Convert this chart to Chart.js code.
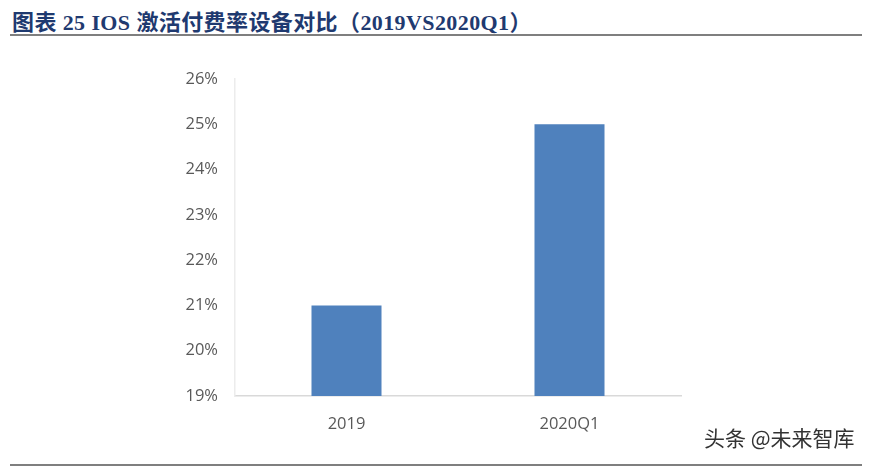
<!DOCTYPE html>
<html>
<head>
<meta charset="utf-8">
<script src="https://cdn.jsdelivr.net/npm/chart.js@4"></script>
<style>
    body { margin: 0; width: 872px; height: 469px; background: #fff; position: relative; overflow: hidden; }
    #title { position: absolute; left: 12px; top: 4px; font: bold 22px "Liberation Serif", "Noto Sans CJK SC", serif; color: #1f3a70; white-space: nowrap; letter-spacing: 0.4px; }
    .line { position: absolute; left: 10px; width: 852px; height: 2px; background: #7f7f7f; }
    #mark { position: absolute; left: 704px; top: 422px; font: 21px "Noto Sans CJK SC", sans-serif; color: #333; }
    #wrap { position: absolute; left: 0; top: 0; width: 872px; height: 469px; }
</style>
</head>
<body>
<div id="title">图表 25 IOS 激活付费率设备对比（2019VS2020Q1）</div>
<div class="line" style="top:34px"></div>
<div class="line" style="top:464px"></div>
<div id="wrap"><canvas id="myChart"></canvas></div>
<div id="mark">头条 @未来智库</div>
<script>
// data
var categories = ['2019', '2020Q1'];
var payRate = [21, 25];          // %
var yMin = 19, yMax = 26, yStep = 1;

var ctx = document.getElementById('myChart').getContext('2d');
var chart = new Chart(ctx, {
    type: 'bar',
    data: {
        labels: categories,
        datasets: [{
            data: payRate,
            backgroundColor: '#4f81bd',
            barPercentage: 0.314,
            categoryPercentage: 1
        }]
    },
    options: {
        responsive: true,
        maintainAspectRatio: false,
        animation: false,
        layout: { padding: { left: 0, right: 191, top: 79, bottom: 0 } },
        plugins: { legend: { display: false }, tooltip: { enabled: false } },
        scales: {
            x: {
                grid: { display: false, drawTicks: false },
                border: { display: true, color: '#d9d9d9', width: 1.5 },
                ticks: { color: '#595959', padding: 18, font: { family: 'Open Sans', size: 16.5 } },
                afterFit: function(scale) { scale.height = 73; }
            },
            y: {
                min: yMin,
                max: yMax,
                grid: { display: false, drawTicks: false },
                border: { display: true, color: '#ececec', width: 1.5 },
                ticks: {
                    stepSize: yStep,
                    color: '#595959',
                    padding: 17,
                    font: { family: 'Open Sans', size: 16.5 },
                    callback: function(v) { return v + '%'; }
                },
                afterFit: function(scale) { scale.width = 235; }
            }
        }
    }
});
</script>
</body>
</html>
